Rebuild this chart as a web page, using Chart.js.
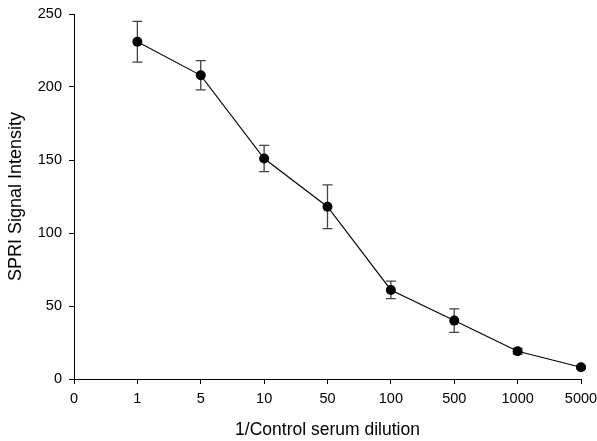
<!DOCTYPE html>
<html>
<head>
<meta charset="utf-8">
<script src="https://cdn.jsdelivr.net/npm/chart.js@4.4.0/dist/chart.umd.min.js"></script>
<style>
html,body{margin:0;padding:0;background:#fff;}
#wrap{width:597px;height:441px;position:relative;}
</style>
</head>
<body>
<div id="wrap"><canvas id="c" width="597" height="441"></canvas></div>
<script>
const categories = ['0', '1', '5', '10', '50', '100', '500', '1000', '5000'];
const signal = [null, 231, 208, 151, 118, 61, 40, 19, 8];
const errors = [null, 14, 10, 9, 15, 6, 8, 2, 1];
const yTicks = [0, 50, 100, 150, 200, 250];

const errorBarPlugin = {
  id: 'errorBars',
  beforeDatasetsDraw(chart) {
    const ctx = chart.ctx;
    const xs = chart.scales.x, ys = chart.scales.y;
    ctx.save();
    ctx.strokeStyle = '#444';
    ctx.lineWidth = 1.3;
    signal.forEach((v, i) => {
      if (v === null) return;
      const x = xs.getPixelForValue(i);
      const yt = ys.getPixelForValue(v + errors[i]);
      const yb = ys.getPixelForValue(v - errors[i]);
      ctx.beginPath();
      ctx.moveTo(x, yt); ctx.lineTo(x, yb);
      ctx.moveTo(x - 5, yt); ctx.lineTo(x + 5, yt);
      ctx.moveTo(x - 5, yb); ctx.lineTo(x + 5, yb);
      ctx.stroke();
    });
    ctx.restore();
  }
};

function noOverflow(s) {
  s.paddingLeft = 0; s.paddingRight = 0; s.paddingTop = 0; s.paddingBottom = 0;
}

new Chart(document.getElementById('c'), {
  type: 'line',
  data: {
    labels: categories,
    datasets: [{
      data: signal,
      borderColor: '#000',
      borderWidth: 1.1,
      pointRadius: 5,
      pointBackgroundColor: '#000',
      pointBorderColor: '#000',
      pointBorderWidth: 0,
      tension: 0
    }]
  },
  options: {
    responsive: false,
    animation: false,
    devicePixelRatio: 1,
    layout: { padding: { top: 14, right: 16, left: 0, bottom: 0 } },
    plugins: { legend: { display: false }, tooltip: { enabled: false } },
    scales: {
      x: {
        type: 'category',
        offset: false,
        grid: { display: true, drawOnChartArea: false, tickLength: 5, color: '#000' },
        border: { display: true, color: '#000', width: 1 },
        ticks: { color: '#000', font: { family: 'Liberation Sans, Arial', size: 14.5 }, padding: 6, maxRotation: 0, autoSkip: false },
        title: { display: true, text: '1/Control serum dilution', color: '#000', font: { family: 'Liberation Sans, Arial', size: 17.5 }, padding: { top: 10, bottom: 0.5 } },
        afterFit(s) { s.height = 62; noOverflow(s); }
      },
      y: {
        min: 0, max: 250,
        afterBuildTicks(s) { s.ticks = yTicks.map(v => ({ value: v })); },
        grid: { display: true, drawOnChartArea: false, tickLength: 5, color: '#000' },
        border: { display: true, color: '#000', width: 1 },
        ticks: { color: '#000', font: { family: 'Liberation Sans, Arial', size: 14.5 }, padding: 7 },
        title: { display: true, text: 'SPRI Signal Intensity', color: '#000', font: { family: 'Liberation Sans, Arial', size: 18 }, padding: { top: 5, bottom: 4 } },
        afterFit(s) { s.width = 74; noOverflow(s); }
      }
    }
  },
  plugins: [errorBarPlugin]
});
</script>
</body>
</html>
